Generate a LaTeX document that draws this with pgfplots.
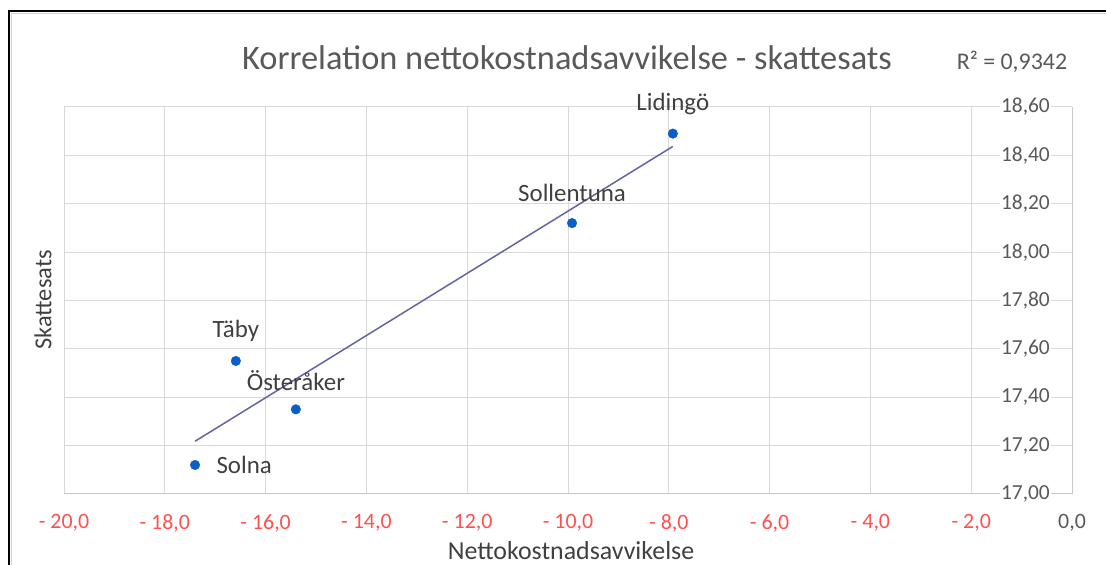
\documentclass[border=0pt]{standalone}
\usepackage{pgfplots}
\pgfplotsset{compat=1.18}
\usepackage{fontspec}
\setmainfont{Carlito}
\definecolor{negred}{RGB}{255,80,80}
\definecolor{ticktxt}{RGB}{89,89,89}
\definecolor{labtxt}{RGB}{64,64,64}
\definecolor{dotblue}{RGB}{10,94,200}
\definecolor{trend}{RGB}{100,100,165}
\definecolor{gridc}{RGB}{217,217,217}
\definecolor{axc}{RGB}{200,200,200}

\pgfplotstableread{
x y
-7.92 18.49
-9.92 18.12
-16.59 17.55
-15.40 17.35
-17.40 17.12
}\pointdata

\begin{document}
\begin{tikzpicture}[x=1bp,y=1bp]
\path[use as bounding box] (0,0) rectangle (1106,565);
\draw[line width=2.2bp, black] (9,-2) -- (9,554) -- (1108,554);
\draw[line width=1.2bp, gray!35] (11.6,-2) -- (11.6,551.4) -- (1108,551.4);
\begin{axis}[
  at={(64bp,71bp)}, anchor=south west,
  scale only axis, width=1008bp, height=387bp,
  xmin=-20, xmax=0, ymin=17, ymax=18.6,
  xtick={-20,-18,-16,-14,-12,-10,-8,-6,-4,-2,0},
  xticklabels={{\color{negred}- 20,0},{\color{negred}- 18,0},{\color{negred}- 16,0},{\color{negred}- 14,0},{\color{negred}- 12,0},{\color{negred}- 10,0},{\color{negred}- 8,0},{\color{negred}- 6,0},{\color{negred}- 4,0},{\color{negred}- 2,0},{0,0}},
  ytick={17,17.2,17.4,17.6,17.8,18,18.2,18.4,18.6},
  yticklabels={{17,00},{17,20},{17,40},{17,60},{17,80},{18,00},{18,20},{18,40},{18,60}},
  axis x line*=bottom, axis y line*=right,
  axis line style={axc, line width=1bp, -},
  major tick length=0pt,
  grid=major, grid style={gridc, line width=1bp},
  xticklabel style={font=\fontsize{22}{26}\selectfont, text=ticktxt, yshift=-17bp},
  yticklabel style={font=\fontsize{21.5}{25}\selectfont, text=ticktxt, anchor=east, fill=white, inner sep=1bp, xshift=-21bp},
  clip=false,
]
\addplot[trend, line width=1.5bp] coordinates {(-17.40,17.218) (-7.92,18.437)};
\addplot[only marks, mark=*, mark size=4.8bp, mark options={fill=dotblue, draw=dotblue}] table[x=x,y=y] {\pointdata};
\node[font=\fontsize{25}{29}\selectfont, text=labtxt] at (axis cs:-7.92,18.49) [yshift=30bp] {Lidingö};
\node[font=\fontsize{25}{29}\selectfont, text=labtxt] at (axis cs:-9.92,18.12) [yshift=30bp] {Sollentuna};
\node[font=\fontsize{25}{29}\selectfont, text=labtxt] at (axis cs:-16.59,17.55) [yshift=30bp] {Täby};
\node[font=\fontsize{25}{29}\selectfont, text=labtxt] at (axis cs:-15.40,17.35) [yshift=29bp] {Österåker};
\node[font=\fontsize{25}{29}\selectfont, text=labtxt, anchor=west] at (axis cs:-17.40,17.12) [xshift=18bp] {Solna};
\end{axis}
\node[font=\fontsize{34.5}{40}\selectfont, text=ticktxt] at (567,507) {Korrelation nettokostnadsavvikelse - skattesats};
\node[font=\fontsize{24}{28}\selectfont, text=ticktxt] at (1012,503) {R² = 0,9342};
\node[font=\fontsize{26}{30}\selectfont, text=labtxt] at (571,14) {Nettokostnadsavvikelse};
\node[font=\fontsize{24.5}{28}\selectfont, text=labtxt, rotate=90] at (43,265) {Skattesats};
\end{tikzpicture}
\end{document}
